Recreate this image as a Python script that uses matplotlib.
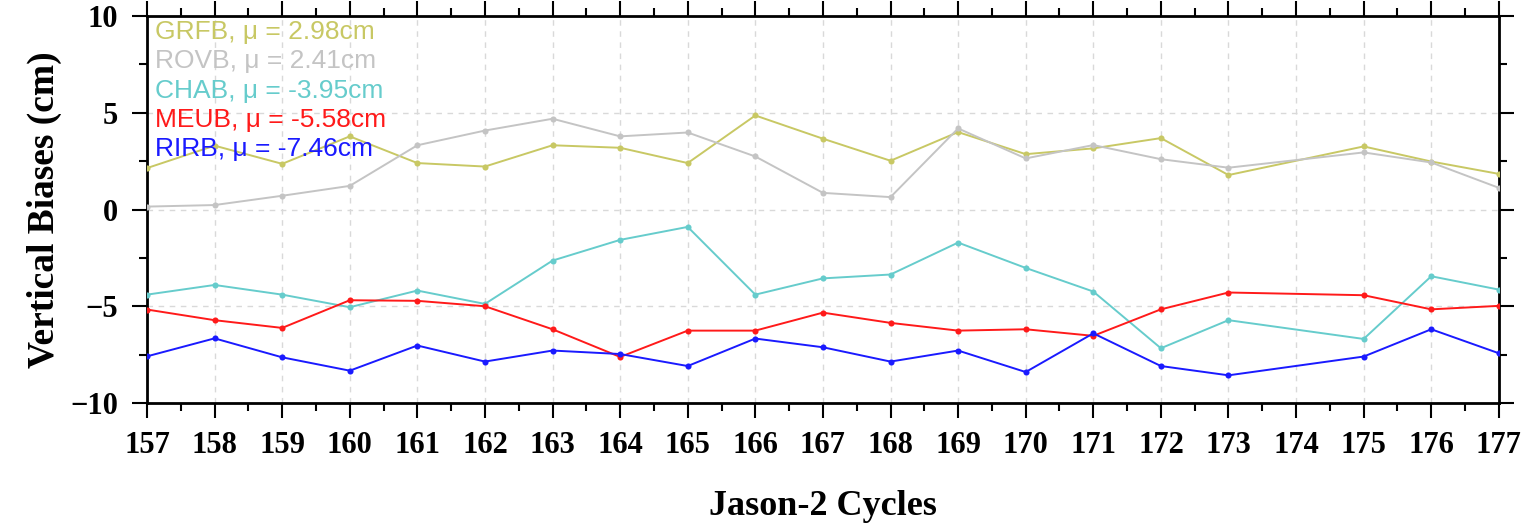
"""Vertical biases per Jason-2 cycle for five tide-gauge stations."""

import matplotlib.pyplot as plt
from matplotlib.ticker import MultipleLocator

# Jason-2 cycles (174 has no solution)
cycles = [157, 158, 159, 160, 161, 162, 163, 164, 165, 166, 167,
          168, 169, 170, 171, 172, 173, 175, 176, 177]

grfb = [2.14, 3.30, 2.36, 3.78, 2.40, 2.22, 3.32, 3.19, 2.40, 4.86, 3.66,
        2.52, 4.00, 2.86, 3.16, 3.69, 1.78, 3.26, 2.48, 1.84]
rovb = [0.15, 0.23, 0.71, 1.22, 3.32, 4.08, 4.69, 3.78, 3.98, 2.74, 0.86,
        0.64, 4.19, 2.64, 3.33, 2.60, 2.16, 2.95, 2.43, 1.12]
chab = [-4.40, -3.90, -4.40, -5.05, -4.19, -4.88, -2.64, -1.57, -0.90, -4.40, -3.56,
        -3.36, -1.71, -3.02, -4.24, -7.17, -5.72, -6.69, -3.45, -4.14]
meub = [-5.17, -5.72, -6.12, -4.69, -4.72, -5.00, -6.19, -7.62, -6.26, -6.26, -5.33,
        -5.86, -6.26, -6.19, -6.53, -5.16, -4.29, -4.43, -5.16, -4.98]
rirb = [-7.59, -6.66, -7.64, -8.33, -7.03, -7.86, -7.29, -7.47, -8.09, -6.67, -7.12,
        -7.86, -7.29, -8.40, -6.40, -8.09, -8.57, -7.60, -6.19, -7.43]

station_names = ["GRFB", "ROVB", "CHAB", "MEUB", "RIRB"]
station_means = [2.98, 2.41, -3.95, -5.58, -7.46]
station_series = [grfb, rovb, chab, meub, rirb]
station_colors = ["#c8c864", "#c4c4c4", "#66cccc", "#ff1a1a", "#1a1aff"]

x_ticks = list(range(157, 178))

serif_bold = {"family": "Liberation Serif", "weight": "bold"}

fig = plt.figure(figsize=(15.31, 5.25), dpi=100)
ax = fig.add_axes([0.096, 0.2324, 0.883, 0.7371])

for name, values, color in zip(station_names, station_series, station_colors):
    ax.plot(cycles, values, "-o", color=color, lw=1.4, markersize=4.4,
            markeredgewidth=0, label=name, zorder=3)

ax.set_xlim(157, 177)
ax.set_ylim(-10, 10)
ax.set_xticks(x_ticks)
ax.xaxis.set_minor_locator(MultipleLocator(0.5))
ax.yaxis.set_major_locator(MultipleLocator(5))
ax.yaxis.set_minor_locator(MultipleLocator(2.5))

ax.grid(True, which="major", color="#d9d9d9", linestyle=(0, (4, 4)), lw=1.0)
ax.set_axisbelow(True)

for spine in ax.spines.values():
    spine.set_linewidth(2.0)
    spine.set_color("black")

ax.tick_params(which="both", direction="out", top=True, right=True,
               width=1.5, color="black")
ax.tick_params(which="major", length=11, pad=9)
ax.tick_params(which="minor", length=6)
ax.tick_params(axis="y", which="major", pad=10)

for lbl in ax.get_xticklabels() + ax.get_yticklabels():
    lbl.set_fontfamily("Liberation Serif")
    lbl.set_fontweight("bold")
    lbl.set_fontsize(22)

ax.set_xlabel("Jason-2 Cycles", fontsize=26, labelpad=22, **serif_bold)
ax.set_ylabel("Vertical Biases (cm)", fontsize=27, labelpad=6, **serif_bold)

# station labels with mean bias, stacked in the upper left corner
for i, (name, mean, color) in enumerate(zip(station_names, station_means, station_colors)):
    ax.text(0.006, 0.958 - i * 0.0755, f"{name}, \u03bc = {mean:.2f}cm",
            transform=ax.transAxes, color=color, fontsize=19,
            family="Liberation Sans", ha="left", va="center", zorder=4)

fig.savefig("out.png", dpi=100)
